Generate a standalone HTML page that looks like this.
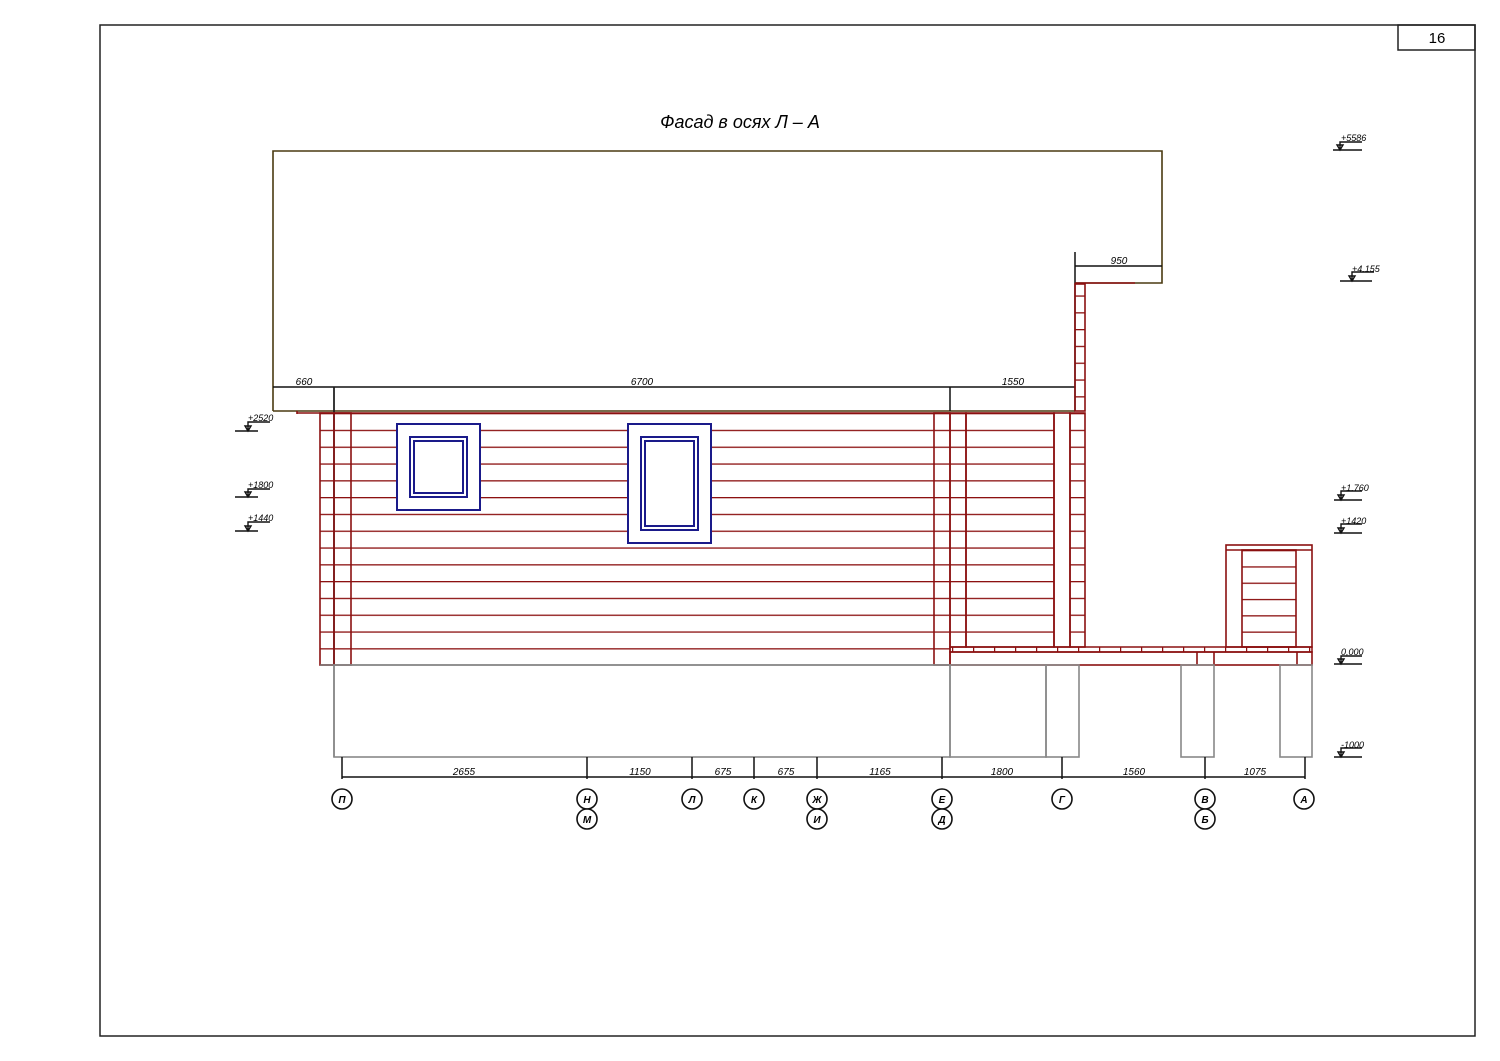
<!DOCTYPE html>
<html><head><meta charset="utf-8"><style>
html,body{margin:0;padding:0;background:#fff}
svg{display:block}
text{font-family:"Liberation Sans","DejaVu Sans",sans-serif;font-style:italic}
</style></head><body>
<svg width="1500" height="1061" viewBox="0 0 1500 1061" xmlns="http://www.w3.org/2000/svg">
<defs>
<pattern id="logs" patternUnits="userSpaceOnUse" x="0" y="413" width="10" height="16.8">
<line x1="0" y1="0.5" x2="10" y2="0.5" stroke="#8b1010" stroke-width="1.6"/>
</pattern>
<pattern id="deck" patternUnits="userSpaceOnUse" x="952" y="0" width="21" height="10">
<line x1="0.5" y1="0" x2="0.5" y2="10" stroke="#8b1010" stroke-width="1.5"/>
</pattern>
<pattern id="box" patternUnits="userSpaceOnUse" x="0" y="550" width="10" height="16.3">
<line x1="0" y1="0.5" x2="10" y2="0.5" stroke="#8b1010" stroke-width="1.6"/>
</pattern>
</defs>
<rect x="100" y="25" width="1375" height="1011" fill="none" stroke="#222" stroke-width="1.5"/>
<rect x="1398" y="25" width="77" height="25" fill="none" stroke="#222" stroke-width="1.5"/>
<text x="1437" y="43" font-size="15" text-anchor="middle" style="font-style:normal">16</text>
<text x="740" y="128" font-size="18" text-anchor="middle">Фасад в осях Л – А</text>

<g fill="none" stroke="#4a3a10" stroke-width="1.6">
<polyline points="273,411 273,151 1162,151 1162,283 1075,283"/>
<line x1="273" y1="411" x2="1075" y2="411"/>
</g>
<g stroke="#111" stroke-width="1.5" fill="none">
<line x1="273" y1="387" x2="1075" y2="387"/>
<line x1="334" y1="387" x2="334" y2="757" stroke="#666"/>
<line x1="334" y1="387" x2="334" y2="665"/>
<line x1="950" y1="387" x2="950" y2="411"/>
<line x1="1075" y1="252" x2="1075" y2="411"/>
<line x1="1075" y1="266" x2="1162" y2="266"/>
</g>
<g font-size="10" text-anchor="middle">
<text x="304" y="385">660</text><text x="642" y="385">6700</text><text x="1013" y="385">1550</text><text x="1119" y="264">950</text>
</g>

<g stroke="#8b1010" stroke-width="1.6">
<line x1="297" y1="413" x2="950" y2="413"/>
<line x1="297" y1="411" x2="297" y2="414"/>
<line x1="1075" y1="283" x2="1135" y2="283"/>
</g>
<rect x="351" y="413" width="583" height="252" fill="url(#logs)"/>
<rect x="320" y="413" width="31" height="252" fill="url(#logs)" stroke="#8b1010" stroke-width="1.6"/>
<line x1="334" y1="413" x2="334" y2="665" stroke="#8b1010" stroke-width="1.6"/>
<rect x="934" y="413" width="16" height="252" fill="url(#logs)" stroke="#8b1010" stroke-width="1.6"/>
<rect x="950" y="413" width="16" height="234" fill="url(#logs)" stroke="#8b1010" stroke-width="1.6"/>
<rect x="966" y="413" width="88" height="234" fill="url(#logs)" stroke="#8b1010" stroke-width="1.6"/>
<rect x="1054" y="413" width="16" height="234" fill="none" stroke="#8b1010" stroke-width="1.6"/>
<rect x="1075" y="284" width="10" height="127" fill="url(#logs)" stroke="#8b1010" stroke-width="1.6"/>
<rect x="1070" y="413" width="15" height="234" fill="url(#logs)" stroke="#8b1010" stroke-width="1.6"/>
<line x1="320" y1="665" x2="950" y2="665" stroke="#777" stroke-width="1.6"/>

<g fill="#fff" stroke="#1a1a8a" stroke-width="2">
<rect x="397" y="424" width="83" height="86"/>
<rect x="410" y="437" width="57" height="60"/>
<rect x="414" y="441" width="49" height="52"/>
<rect x="628" y="424" width="83" height="119"/>
<rect x="641" y="437" width="57" height="93"/>
<rect x="645" y="441" width="49" height="85"/>
</g>

<rect x="950" y="647" width="362" height="5" fill="url(#deck)" stroke="#8b1010" stroke-width="1.5"/>
<rect x="950" y="652" width="362" height="13" fill="none" stroke="#8b1010" stroke-width="1.6"/>
<g stroke="#8b1010" stroke-width="1.6">
<line x1="1197" y1="652" x2="1197" y2="665"/><line x1="1214" y1="652" x2="1214" y2="665"/><line x1="1297" y1="652" x2="1297" y2="665"/>
</g>
<rect x="1226" y="545" width="86" height="102" fill="none" stroke="#8b1010" stroke-width="1.6"/>
<line x1="1226" y1="550" x2="1312" y2="550" stroke="#8b1010" stroke-width="1.6"/>
<rect x="1242" y="550" width="54" height="97" fill="url(#box)" stroke="#8b1010" stroke-width="1.6"/>

<g fill="none" stroke="#888" stroke-width="1.6">
<rect x="334" y="665" width="616" height="92"/>
<rect x="950" y="665" width="96" height="92"/>
<rect x="1046" y="665" width="33" height="92"/>
<rect x="1181" y="665" width="33" height="92"/>
<rect x="1280" y="665" width="32" height="92"/>
</g>

<g stroke="#111" stroke-width="1.5">
<line x1="342" y1="777" x2="1305" y2="777"/>
<line x1="342" y1="757" x2="342" y2="779"/><line x1="587" y1="757" x2="587" y2="779"/><line x1="692" y1="757" x2="692" y2="779"/><line x1="754" y1="757" x2="754" y2="779"/><line x1="817" y1="757" x2="817" y2="779"/><line x1="942" y1="757" x2="942" y2="779"/><line x1="1062" y1="757" x2="1062" y2="779"/><line x1="1205" y1="757" x2="1205" y2="779"/><line x1="1305" y1="757" x2="1305" y2="779"/>
</g>
<g font-size="10" text-anchor="middle">
<text x="464" y="775">2655</text><text x="640" y="775">1150</text><text x="723" y="775">675</text><text x="786" y="775">675</text><text x="880" y="775">1165</text><text x="1002" y="775">1800</text><text x="1134" y="775">1560</text><text x="1255" y="775">1075</text>
</g>
<g fill="#fff" stroke="#111" stroke-width="1.6">
<circle cx="342" cy="799" r="10"/><circle cx="587" cy="799" r="10"/><circle cx="587" cy="819" r="10"/><circle cx="692" cy="799" r="10"/><circle cx="754" cy="799" r="10"/><circle cx="817" cy="799" r="10"/><circle cx="817" cy="819" r="10"/><circle cx="942" cy="799" r="10"/><circle cx="942" cy="819" r="10"/><circle cx="1062" cy="799" r="10"/><circle cx="1205" cy="799" r="10"/><circle cx="1205" cy="819" r="10"/><circle cx="1304" cy="799" r="10"/>
</g>
<g font-size="10" text-anchor="middle" font-weight="bold">
<text x="342" y="803">П</text><text x="587" y="803">Н</text><text x="587" y="823">М</text><text x="692" y="803">Л</text><text x="754" y="803">К</text><text x="817" y="803">Ж</text><text x="817" y="823">И</text><text x="942" y="803">Е</text><text x="942" y="823">Д</text><text x="1062" y="803">Г</text><text x="1205" y="803">В</text><text x="1205" y="823">Б</text><text x="1304" y="803">А</text>
</g>

<g stroke="#111" stroke-width="1.4" fill="none">
<path d="M235 431 H258 M248 431 V422 H270 M245 426 L251 426 L248 431 Z"/>
<path d="M235 497 H258 M248 497 V489 H270 M245 492 L251 492 L248 497 Z"/>
<path d="M235 531 H258 M248 531 V522 H270 M245 526 L251 526 L248 531 Z"/>
<path d="M1333 150 H1362 M1340 150 V142 H1362 M1337 145 L1343 145 L1340 150 Z"/>
<path d="M1340 281 H1372 M1352 281 V272 H1374 M1349 276 L1355 276 L1352 281 Z"/>
<path d="M1334 500 H1362 M1341 500 V491 H1362 M1338 495 L1344 495 L1341 500 Z"/>
<path d="M1334 533 H1362 M1341 533 V524 H1362 M1338 528 L1344 528 L1341 533 Z"/>
<path d="M1334 664 H1362 M1341 664 V656 H1362 M1338 659 L1344 659 L1341 664 Z"/>
<path d="M1334 757 H1362 M1341 757 V748 H1362 M1338 752 L1344 752 L1341 757 Z"/>
</g>
<g font-size="9">
<text x="248" y="421">+2520</text><text x="248" y="488">+1800</text><text x="248" y="521">+1440</text>
<text x="1341" y="141">+5586</text><text x="1352" y="272">+4.155</text><text x="1341" y="491">+1.760</text><text x="1341" y="524">+1420</text><text x="1341" y="655">0,000</text><text x="1341" y="748">-1000</text>
</g>
</svg>
</body></html>
